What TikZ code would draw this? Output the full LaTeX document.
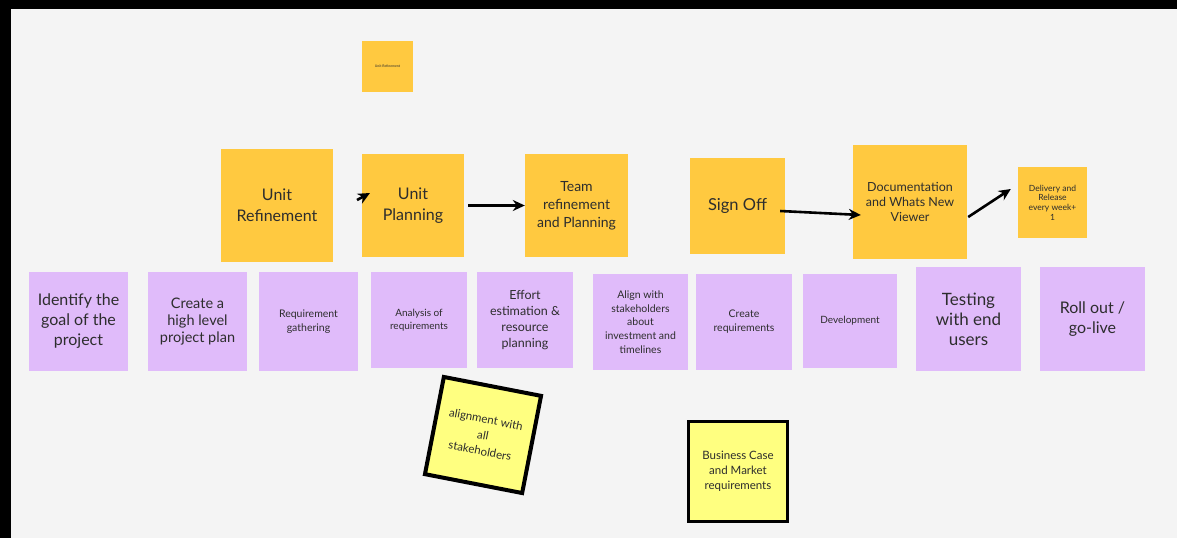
\documentclass[tikz,border=0pt]{standalone}
\usepackage{fontspec}
\setmainfont{Lato}
\usetikzlibrary{arrows.meta,calc}
\definecolor{bg}{RGB}{244,244,244}
\definecolor{orng}{RGB}{255,201,64}
\definecolor{purp}{RGB}{224,187,250}
\definecolor{lyel}{RGB}{255,255,128}
\definecolor{txt}{RGB}{45,45,45}
\tikzset{
  sticky/.style={inner sep=0pt, align=center, text=txt},
  oy/.style={sticky, fill=orng},
  pu/.style={sticky, fill=purp},
  ly/.style={sticky, fill=lyel, draw=black},
  arr/.style={draw=black, line width=2.6pt, -{Stealth[length=12pt,width=11pt]}},
  sz/.style 2 args={minimum width=#1pt, minimum height=#2pt},
  fs/.style 2 args={font=\fontsize{#1}{#2}\selectfont},
}
\begin{document}
\begin{tikzpicture}[x=1pt,y=-1pt]
\path[fill=bg] (0,0) rectangle (1177,538);
\fill[black] (0,0) rectangle (1177,9);
\fill[black] (0,0) rectangle (11,538);

% top row (orange)
\node[oy, sz={51}{51}, fs={3.5}{4}] (tiny) at (387.5,66.5) {Unit Refinement};
\node[oy, sz={112}{113}, fs={16}{21}] (uref) at (277,205.5) {Unit\\Refinement};
\node[oy, sz={102}{103}, fs={16}{21}] (uplan) at (413,205.5) {Unit\\Planning};
\node[oy, sz={103}{103}, fs={14}{18}] (team) at (576.5,205.5) {Team\\refinement\\and Planning};
\node[oy, sz={95}{96}, fs={16.5}{20}] (sign) at (737.5,206) {Sign Off};
\node[oy, sz={114}{114}, fs={12.5}{15}] (doc) at (910,202) {Documentation\\and Whats New\\Viewer};
\node[oy, sz={69}{71}, fs={8.5}{9.7}] (deliv) at (1052.5,202.5) {Delivery and\\Release\\every week+\\1};

% bottom row (purple)
\node[pu, sz={99}{99}, fs={16}{20}] (ident) at (78.5,321.5) {Identify the\\goal of the\\project};
\node[pu, sz={99}{99}, fs={14.5}{17}] (hlplan) at (197.5,321.5) {Create a\\high level\\project plan};
\node[pu, sz={99}{99}, fs={10.5}{14}] (reqg) at (308.5,321.5) {Requirement\\gathering};
\node[pu, sz={96}{96}, fs={10}{13.5}] (anal) at (419,320) {Analysis of\\requirements};
\node[pu, sz={96}{96}, fs={12.5}{16}] (effort) at (525,320) {Effort\\estimation \&\\resource\\planning};
\node[pu, sz={95}{96}, fs={10.5}{13.7}] (align) at (640.5,322) {Align with\\stakeholders\\about\\investment and\\timelines};
\node[pu, sz={96}{96}, fs={10.5}{14}] (creq) at (744,322) {Create\\requirements};
\node[pu, sz={94}{94}, fs={10}{13}] (dev) at (850,321) {Development};
\node[pu, sz={105}{104}, fs={17}{20}] (test) at (968.5,319) {Testing\\with end\\users};
\node[pu, sz={105}{104}, fs={16}{20.6}] (roll) at (1092.5,319) {Roll out /\\go-live};

% light yellow notes
\node[ly, line width=4pt, sz={99}{99}, rotate=-11, fs={11.5}{16}] (alignall) at (483,435) {alignment with\\all\\stakeholders};
\node[ly, line width=3pt, sz={99}{100}, fs={11.5}{15}] (biz) at (738,471.5) {Business Case\\and Market\\requirements};

% connectors
\coordinate (sa) at (357,200);
\coordinate (sb) at (370,193);
\draw[arr] (sa) -- (sb);
\draw[arr] ($(uplan.east)+(4,0)$) -- (team.west);
\draw[arr] ($(sign.east)+(-5,5)$) -- ($(doc.west)+(8,13)$);
\draw[arr] ($(doc.east)+(1,15)$) -- ($(deliv.west)+(-7,-13.5)$);
\end{tikzpicture}
\end{document}
